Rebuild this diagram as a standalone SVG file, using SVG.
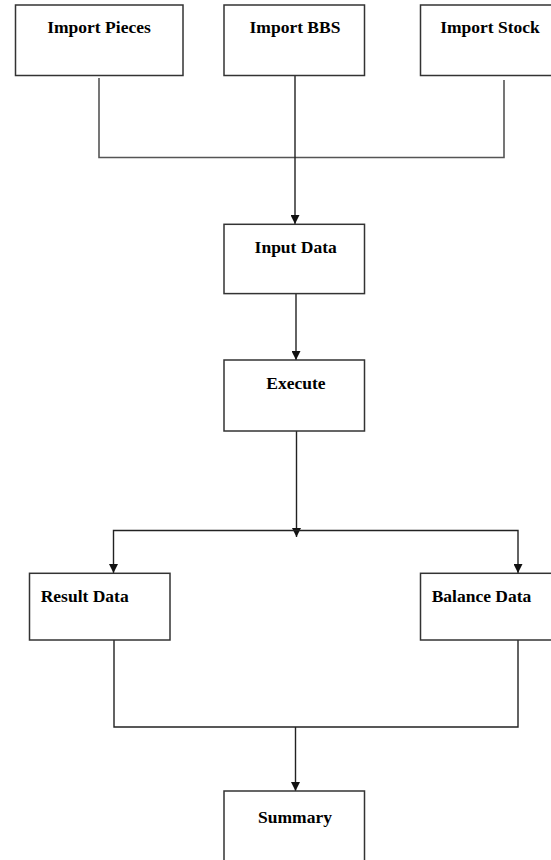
<svg xmlns="http://www.w3.org/2000/svg" width="551" height="860" viewBox="0 0 551 860">
<style>
.box{fill:#fff;stroke:#333;stroke-width:1.5}
.lbl{font-family:"Liberation Serif","Times New Roman",serif;font-weight:bold;font-size:17.5px;fill:#000}
.c{text-anchor:middle}
.ln{fill:none;stroke:#222;stroke-width:1.4}
.lg{fill:none;stroke:#555;stroke-width:1.6}
</style>
<defs>
<marker id="ah" markerWidth="9" markerHeight="9" refX="9" refY="4.5" orient="auto" markerUnits="userSpaceOnUse">
<path d="M0,0 L9,4.5 L0,9 Z" fill="#111"/>
</marker>
</defs>
<rect width="551" height="860" fill="#fff"/>
<g id="connectors">
<path class="lg" d="M99,78 V157.5 H504 V80"/>
<path class="ln" d="M295,75.5 V224" marker-end="url(#ah)"/>
<path class="ln" d="M296,293.5 V360" marker-end="url(#ah)"/>
<path class="ln" d="M296.5,431 V537" marker-end="url(#ah)"/>
<path class="ln" d="M296,530.5 H113.5 V573" marker-end="url(#ah)"/>
<path class="ln" d="M296,530.5 H518 V573" marker-end="url(#ah)"/>
<path class="ln" d="M114,640 V727 H518 V640"/>
<path class="ln" d="M295.5,727 V791" marker-end="url(#ah)"/>
</g>
<g id="import-pieces">
<rect class="box" x="15.5" y="5" width="167.5" height="70.5"/>
<text class="lbl c" x="99" y="33">Import Pieces</text>
</g>
<g id="import-bbs">
<rect class="box" x="224" y="5" width="140.5" height="70.5"/>
<text class="lbl c" x="295" y="33">Import BBS</text>
</g>
<g id="import-stock">
<rect class="box" x="420.5" y="5" width="140" height="70.5"/>
<text class="lbl c" x="490" y="33">Import Stock</text>
</g>
<g id="input-data">
<rect class="box" x="224" y="224.3" width="140.5" height="69.3"/>
<text class="lbl c" x="295.7" y="253.3">Input Data</text>
</g>
<g id="execute">
<rect class="box" x="224" y="360" width="140.5" height="71"/>
<text class="lbl c" x="296" y="388.5">Execute</text>
</g>
<g id="result-data">
<rect class="box" x="29.5" y="573.3" width="140.5" height="66.7"/>
<text class="lbl" x="40.7" y="602.3">Result Data</text>
</g>
<g id="balance-data">
<rect class="box" x="420.5" y="573.3" width="140" height="66.7"/>
<text class="lbl" x="431.7" y="602.3">Balance Data</text>
</g>
<g id="summary">
<rect class="box" x="224" y="791" width="140.5" height="80"/>
<text class="lbl c" x="295" y="823">Summary</text>
</g>
</svg>
